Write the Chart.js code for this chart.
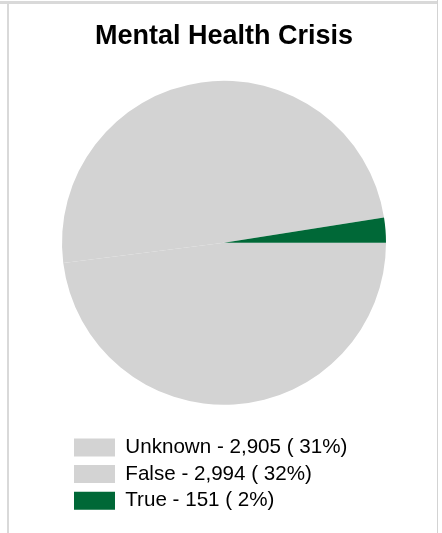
<!DOCTYPE html>
<html>
<head>
<meta charset="utf-8">
<title>Mental Health Crisis</title>
<script src="https://cdn.jsdelivr.net/npm/chart.js@4/dist/chart.umd.min.js"></script>
<style>
    html, body {
        margin: 0;
        padding: 0;
        background: #ffffff;
    }
    body {
        width: 442px;
        height: 533px;
        position: relative;
        overflow: hidden;
    }
    .rule {
        position: absolute;
        background: #d9d9d9;
    }
    #rule-top { left: 0; top: 1px; width: 437px; height: 3px; }
    #rule-left { left: 7px; top: 4px; width: 2px; height: 529px; }
    #rule-right { left: 437px; top: 0; width: 1px; height: 533px; background: #d3d3d3; }
    #chart-box {
        position: absolute;
        left: 9px;
        top: 4px;
        width: 428px;
        height: 529px;
    }
</style>
</head>
<body>
<div class="rule" id="rule-top"></div>
<div class="rule" id="rule-left"></div>
<div class="rule" id="rule-right"></div>
<div id="chart-box"><canvas id="crisis-chart"></canvas></div>

<script>
// Mental health crisis flag, incident counts
const categories = ["Unknown", "False", "True"];
const counts = [2905, 2994, 151];
const shares = [31, 32, 2]; // percent, as reported
const sliceColors = ["#d3d3d3", "#d3d3d3", "#006837"];

const fontFamily = "Arial, 'Liberation Sans', sans-serif";

// Legend text: "Unknown - 2,905 ( 31%)"
const legendText = categories.map(
    (name, i) => `${name} - ${counts[i].toLocaleString("en-US")} ( ${shares[i]}%)`
);

// Bottom legend rows start a few pixels in from the pie's left edge
const legendIndent = {
    id: "legendIndent",
    afterLayout(chart, args, opts) {
        const legend = chart.legend;
        if (!legend) return;
        legend.left += opts.shift;
        legend.right += opts.shift;
    },
};

const ctx = document.getElementById("crisis-chart").getContext("2d");
const chart = new Chart(ctx, {
    type: "pie",
    data: {
        labels: legendText,
        datasets: [
            {
                data: counts,
                backgroundColor: sliceColors,
                borderWidth: 0,
            },
        ],
    },
    options: {
        responsive: true,
        maintainAspectRatio: false,
        animation: false,
        rotation: 90,
        layout: {
            padding: { left: 53, right: 51, top: 0, bottom: 12 },
        },
        plugins: {
            title: {
                display: true,
                text: "Mental Health Crisis",
                color: "#000000",
                font: { family: fontFamily, size: 27, weight: "bold" },
                padding: { top: 16, bottom: 2 },
            },
            legend: {
                position: "bottom",
                align: "start",
                labels: {
                    color: "#000000",
                    boxWidth: 41,
                    boxHeight: 18,
                    padding: 6,
                    font: { family: fontFamily, size: 20.6 },
                },
            },
            legendIndent: { shift: 6 },
            tooltip: { enabled: false },
        },
    },
    plugins: [legendIndent],
});
</script>
</body>
</html>
